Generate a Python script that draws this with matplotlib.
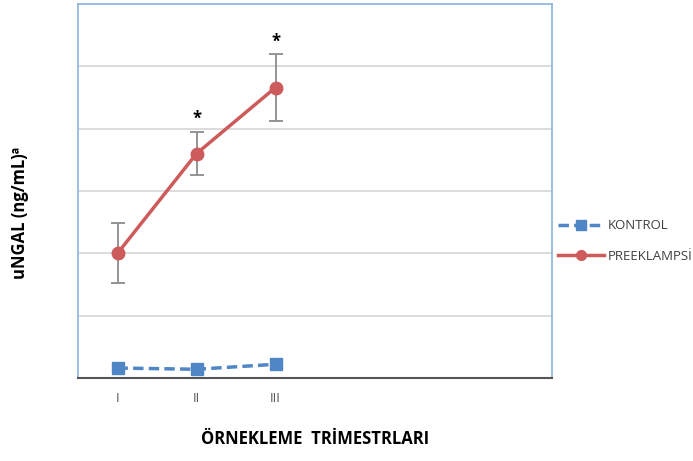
import matplotlib
matplotlib.use("Agg")
import matplotlib.pyplot as plt
from matplotlib.lines import Line2D

plt.rcParams['font.family'] = ['Open Sans', 'DejaVu Sans']

categories = ["I", "II", "III", "", "", ""]
kontrol = [1.6, 1.4, 2.2]
preeklampsi = [20.0, 36.0, 46.6]
preeklampsi_err = [4.8, 3.5, 5.3]
signif = ["", "*", "*"]
series_names = ["KONTROL", "PREEKLAMPSİ"]

blue = "#4F86C6"
red = "#CD5B5B"

fig = plt.figure(figsize=(6.93, 4.61), dpi=100)
ax = fig.add_axes([78/693, 1-378/461, (552-78)/693, (378-4)/461])

x = list(range(len(kontrol)))
ax.set_xlim(-0.5, len(categories) - 0.5)
ax.set_ylim(0, 60)
ax.set_yticks(range(0, 61, 10))
ax.yaxis.grid(True, color="#D9D9D9", linewidth=1.3)
ax.set_axisbelow(True)
ax.tick_params(axis='y', left=False, labelleft=False)
ax.set_xticks(range(len(categories)))
ax.set_xticklabels(categories, color="#595959", fontsize=9.5)
ax.tick_params(axis='x', length=0, pad=10)

for s in ["left", "top", "right"]:
    ax.spines[s].set_color("#8DB4DC")
    ax.spines[s].set_linewidth(1.2)
ax.spines["bottom"].set_color("#555555")
ax.spines["bottom"].set_linewidth(1.5)

ax.plot(x, kontrol, color=blue, linestyle=(0, (3, 1.5)), linewidth=2.5,
        marker="s", markersize=9, clip_on=False, zorder=3)
ax.errorbar(x, preeklampsi, yerr=preeklampsi_err, color=red, linewidth=2.5,
            marker="o", markersize=9, ecolor="#8C8C8C", elinewidth=1.3,
            capsize=5, capthick=1.3, zorder=3)

for xi, yi, e, s in zip(x, preeklampsi, preeklampsi_err, signif):
    if s:
        ax.text(xi, yi + e + 0.6, s, ha="center", va="bottom", fontsize=12,
                fontweight="bold", color="black")

ax.set_xlabel("ÖRNEKLEME  TRİMESTRLARI", fontsize=12, fontweight="bold",
              labelpad=18)
fig.text(20/693, 1-213/461, "uNGAL (ng/mL)ª", rotation=90, ha="center",
         va="center", fontsize=12, fontweight="bold")

handles = [
    Line2D([], [], color=blue, linestyle=(0, (3, 1.5)), linewidth=2.5,
           marker="s", markersize=7),
    Line2D([], [], color=red, linewidth=2.5, marker="o", markersize=7),
]
fig.legend(handles, series_names, loc="center left",
           bbox_to_anchor=(546/693, 1-241/461), frameon=False,
           fontsize=9.5, handlelength=3.5, handletextpad=0.3,
           labelspacing=1.3, labelcolor="#404040")

fig.savefig("out.png", dpi=100)
